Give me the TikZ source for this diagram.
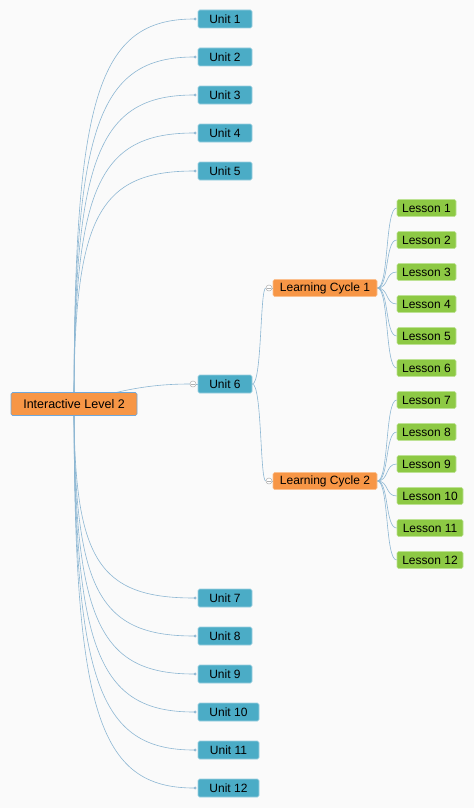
\documentclass[tikz,border=0pt]{standalone}
\usepackage{fontspec}
\setmainfont{Liberation Sans}
\usetikzlibrary{arrows.meta}
\definecolor{bgc}{HTML}{FAFAFA}
\definecolor{unitc}{HTML}{4BACC6}
\definecolor{unitb}{HTML}{9CCFE0}
\definecolor{orc}{HTML}{F79646}
\definecolor{orb}{HTML}{FBC08F}
\definecolor{rootb}{HTML}{6FA8DC}
\definecolor{lesc}{HTML}{8DC944}
\definecolor{lesb}{HTML}{BDE294}
\definecolor{edgec}{HTML}{8DB7D3}
\definecolor{markc}{HTML}{B0B0B0}
\pgfdeclarelayer{back}
\pgfdeclarelayer{edges}
\pgfsetlayers{back,edges,main}
\begin{document}
\begin{tikzpicture}[x=1pt,y=-1pt,
  box/.style={rectangle, rounded corners=1.5pt, line width=0.6pt, inner sep=0pt,
    font=\fontsize{12}{14}\selectfont, text=black},
  unitbox/.style={box, fill=unitc, draw=unitb, minimum height=18pt, minimum width=54pt},
  widebox/.style={unitbox, minimum width=61pt},
  lcbox/.style={box, fill=orc, draw=orb, minimum height=17pt, minimum width=104pt},
  lesbox/.style={box, fill=lesc, draw=lesb, minimum height=17pt, minimum width=59pt},
  wlesbox/.style={lesbox, minimum width=66pt},
  rootbox/.style={box, fill=orc, draw=rootb, minimum height=23pt, minimum width=126pt,
    font=\fontsize{12.5}{15}\selectfont},
  edge/.style={draw=edgec, line width=0.6pt},
  dotedge/.style={edge, -{Circle[length=2.8pt, fill=edgec]}, shorten >=1.2pt},
  marker/.style={circle, draw=markc, fill=white, line width=0.5pt, minimum size=6pt, inner sep=0pt,
    path picture={\draw[markc, line width=0.5pt] ([xshift=-1.8pt]path picture bounding box.center) -- ([xshift=1.8pt]path picture bounding box.center);}}
]
\begin{pgfonlayer}{back}
\fill[bgc] (0,0) rectangle (474,808);
\end{pgfonlayer}
\useasboundingbox (0,0) rectangle (474,808);

\node[rootbox] (root) at (74,404) {Interactive Level 2};

\foreach \n/\y in {1/19,2/57,3/95,4/133,5/171,7/598,8/636,9/674}
  \node[unitbox] (u\n) at (225,\y) {Unit \n};
\foreach \n/\y in {10/712,11/750,12/788}
  \node[widebox] (u\n) at (228.5,\y) {Unit \n};
\node[unitbox] (u6) at (225,384) {Unit 6};
\node[marker] (m6) at (193,384) {};

\node[lcbox] (lc1) at (325,288) {Learning Cycle 1};
\node[lcbox] (lc2) at (325,481) {Learning Cycle 2};
\node[marker] (m1) at (269,288) {};
\node[marker] (m2) at (269,481) {};

\foreach \n/\y in {1/208,2/240,3/272,4/304,5/336,6/368,7/400,8/432,9/464}
  \node[lesbox] (l\n) at (426.5,\y) {Lesson \n};
\foreach \n/\y in {10/496,11/528,12/560}
  \node[wlesbox] (l\n) at (430,\y) {Lesson \n};

\begin{pgfonlayer}{edges}
\foreach \n/\y in {1/19,2/57,3/95,4/133,5/171} {
  \pgfmathsetmacro\ca{404-0.8*(404-\y)}
  \draw[dotedge] (root.center) .. controls (74,\ca) and (98,\y) .. (u\n.west);
}
\foreach \n/\y in {7/598,8/636,9/674,10/712,11/750,12/788} {
  \pgfmathsetmacro\ca{404+0.8*(\y-404)}
  \draw[dotedge] (root.center) .. controls (74,\ca) and (98,\y) .. (u\n.west);
}
\draw[edge] (root.center) .. controls (120,390) and (150,384) .. (m6.west);
\draw[edge] (m6.east) -- (u6.west);
\draw[edge] (u6.east) .. controls (262,384) and (260,288) .. (m1.west);
\draw[edge] (u6.east) .. controls (262,384) and (260,481) .. (m2.west);
\draw[edge] (m1.east) -- (lc1.west);
\draw[edge] (m2.east) -- (lc2.west);
\foreach \n/\y in {1/208,2/240,3/272,4/304,5/336,6/368}
  \draw[edge] (lc1.east) .. controls (389,288) and (385,\y) .. (l\n.west);
\foreach \n/\y in {7/400,8/432,9/464,10/496,11/528,12/560}
  \draw[edge] (lc2.east) .. controls (389,481) and (385,\y) .. (l\n.west);
\end{pgfonlayer}
\end{tikzpicture}
\end{document}
